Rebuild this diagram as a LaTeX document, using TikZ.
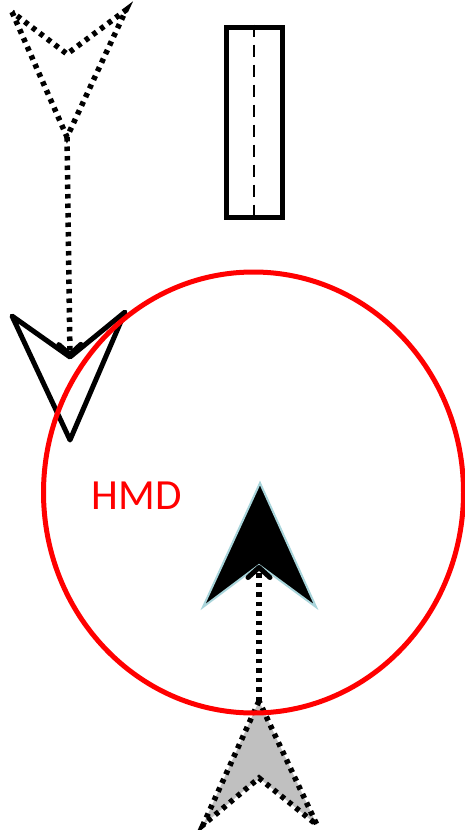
\documentclass[tikz,border=0pt]{standalone}
\usepackage{fontspec}
\setmainfont{Carlito}
\usetikzlibrary{arrows.meta,shapes.geometric}
\definecolor{hmdred}{RGB}{255,0,0}
\definecolor{edgeblue}{RGB}{168,212,218}
\definecolor{ghost}{RGB}{192,192,192}
\tikzset{
  dotline/.style={line width=5.5pt, dash pattern=on 4.5pt off 5pt},
  solidarrow/.style={line width=5pt, line join=round},
  barbtip/.style={-{Straight Barb[length=10pt,width=22pt,line width=5pt,line cap=round,line join=round]}},
}
\begin{document}
\begin{tikzpicture}[x=1pt,y=-1pt]
\useasboundingbox (0,0) rectangle (465,830);
% top dotted arrow
\coordinate (aL) at (12,12);
\coordinate (aN) at (67,54);
\coordinate (aR) at (126,10);
\coordinate (aT) at (67,137);
% second solid arrow
\coordinate (bL) at (12,316);
\coordinate (bN) at (70,357);
\coordinate (bR) at (125,312);
\coordinate (bT) at (70,440);
% black filled arrow
\coordinate (cT) at (260,483);
\coordinate (cL) at (203,607);
\coordinate (cN) at (259,565);
\coordinate (cR) at (316,607);
% gray dotted arrow
\coordinate (dT) at (259,701);
\coordinate (dL) at (203,825);
\coordinate (dN) at (259,778);
\coordinate (dR) at (317,825);

\draw[dotline] (aL) -- (aT) -- (aR) -- (aN) -- cycle;
\draw[dotline, barbtip] (aT) -- (bN);
\draw[solidarrow] (bL) -- (bT) -- (bR) -- (bN) -- cycle;

% rectangle with dashed centre line
\node[draw, line width=5pt, minimum width=56pt, minimum height=190pt, inner sep=0pt] (rect) at (254,122) {};
\draw[line width=1.5pt, dash pattern=on 12pt off 8pt] (rect.north) -- (rect.south);

\filldraw[fill=black, draw=edgeblue, line width=2pt, line join=miter] (cT) -- (cL) -- (cN) -- (cR) -- cycle;
\fill[ghost] (dT) -- (dL) -- (dN) -- (dR) -- cycle;
\draw[dotline] (dT) -- (dL) -- (dN) -- (dR) -- cycle;
\draw[dotline, barbtip] (dT) -- (cN);

\node[draw=hmdred, line width=5pt, ellipse, minimum width=420pt, minimum height=441pt, inner sep=0pt] (hmd) at (253.5,492.5) {};
\node[text=hmdred, font=\fontsize{43}{43}\selectfont, inner sep=0pt] (lbl) at (137,496) {HMD};
\end{tikzpicture}
\end{document}
